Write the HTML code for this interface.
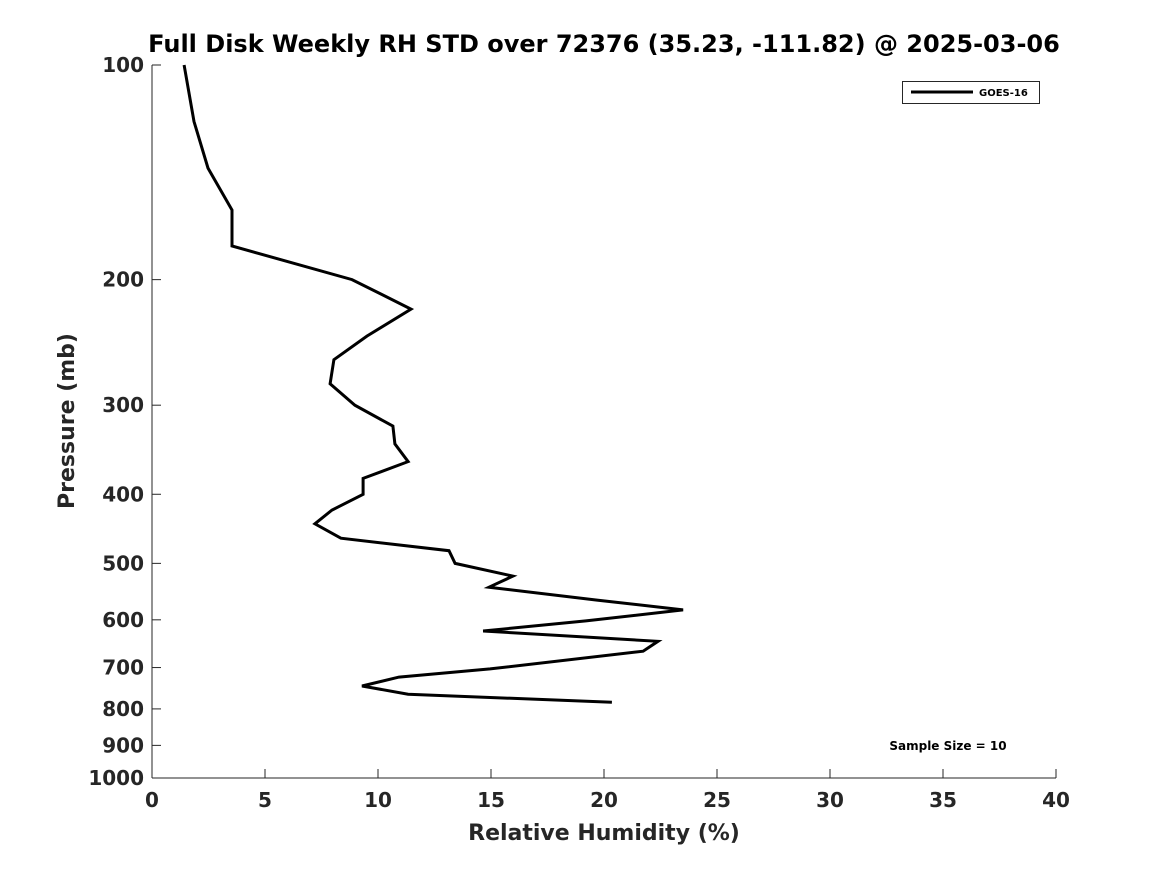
<!DOCTYPE html>
<html><head><meta charset="utf-8"><style>
body{margin:0;background:#fff;width:1167px;height:875px;overflow:hidden}
svg text{font-family:"DejaVu Sans","Liberation Sans",sans-serif;font-weight:bold;fill:#262626}
</style></head><body>
<svg id="chart" width="1167" height="875" xmlns="http://www.w3.org/2000/svg">
<text x="604" y="52" text-anchor="middle" font-size="24" style="fill:#000">Full Disk Weekly RH STD over 72376 (35.23, -111.82) @ 2025-03-06</text>
<g id="axes"></g>
<g id="series"></g>
<g>
<rect x="902.5" y="81.5" width="137" height="22" fill="#fff" stroke="#262626" stroke-width="1"/>
<line x1="911" y1="92" x2="973" y2="92" stroke="#000" stroke-width="3"/>
<text x="979" y="96" font-size="10" style="fill:#000">GOES-16</text>
</g>
<text x="948" y="750" text-anchor="middle" font-size="12" style="fill:#000">Sample Size = 10</text>
<text x="604" y="840" text-anchor="middle" font-size="22">Relative Humidity (%)</text>
<text transform="translate(74,421) rotate(-90)" text-anchor="middle" font-size="22">Pressure (mb)</text>
</svg>
<script>
const rhValues=[1.42,1.86,2.48,3.54,3.54,8.85,11.46,9.51,8.05,7.88,8.98,10.66,10.75,11.33,9.34,9.34,7.96,7.21,8.36,13.14,13.41,15.97,14.91,19.69,23.5,19.2,14.65,22.39,21.73,14.96,10.93,9.29,11.33,20.35];
const pressures=[100,120,139.5,159.7,179.4,200,220,240,259,280,300,321,340,360,380,400,421,440,461,480,500,521,540,563,581,602,622,643,664,703,722,743,763,783];
const xTicks=[0,5,10,15,20,25,30,35,40];
const yTicks=[100,200,300,400,500,600,700,800,900,1000];
const X0=152,X1=1056,Y0=65,Y1=778;
function xs(v){return X0+(v-0)/(40-0)*(X1-X0);}
function ys(p){return Y0+Math.log10(p/100)*(Y1-Y0);}
const NS="http://www.w3.org/2000/svg";
const axes=document.getElementById('axes');
function mk(tag,attrs,parent){const e=document.createElementNS(NS,tag);for(const k in attrs)e.setAttribute(k,attrs[k]);parent.appendChild(e);return e;}
let l=mk('line',{x1:X0,y1:Y0,x2:X0,y2:Y1,stroke:'#262626','stroke-width':1},axes);


l=mk('line',{x1:X0,y1:Y1,x2:X1,y2:Y1,stroke:'#262626','stroke-width':1},axes);


xTicks.forEach(v=>{
 const x=xs(v);
 const t=mk('line',{x1:x,y1:Y1,x2:x,y2:Y1-9,stroke:'#262626'},axes);
 
 
 const tx=mk('text',{x:x,y:Y1+29,'text-anchor':'middle','font-size':20},axes);
 tx.textContent=v;
 
 
});
yTicks.forEach(p=>{
 const y=ys(p);
 const t=mk('line',{x1:X0,y1:y,x2:X0+9,y2:y,stroke:'#262626'},axes);
 
 
 const tx=mk('text',{x:X0-8,y:y+7,'text-anchor':'end','font-size':20},axes);
 tx.textContent=p;
 
 
});
const pts=rhValues.map((v,i)=>xs(v).toFixed(1)+','+ys(pressures[i]).toFixed(1)).join(' ');
const line=mk('polyline',{points:pts,fill:'none',stroke:'#000','stroke-width':3,'stroke-linejoin':'miter'},document.getElementById('series'));


</script>
</body></html>
